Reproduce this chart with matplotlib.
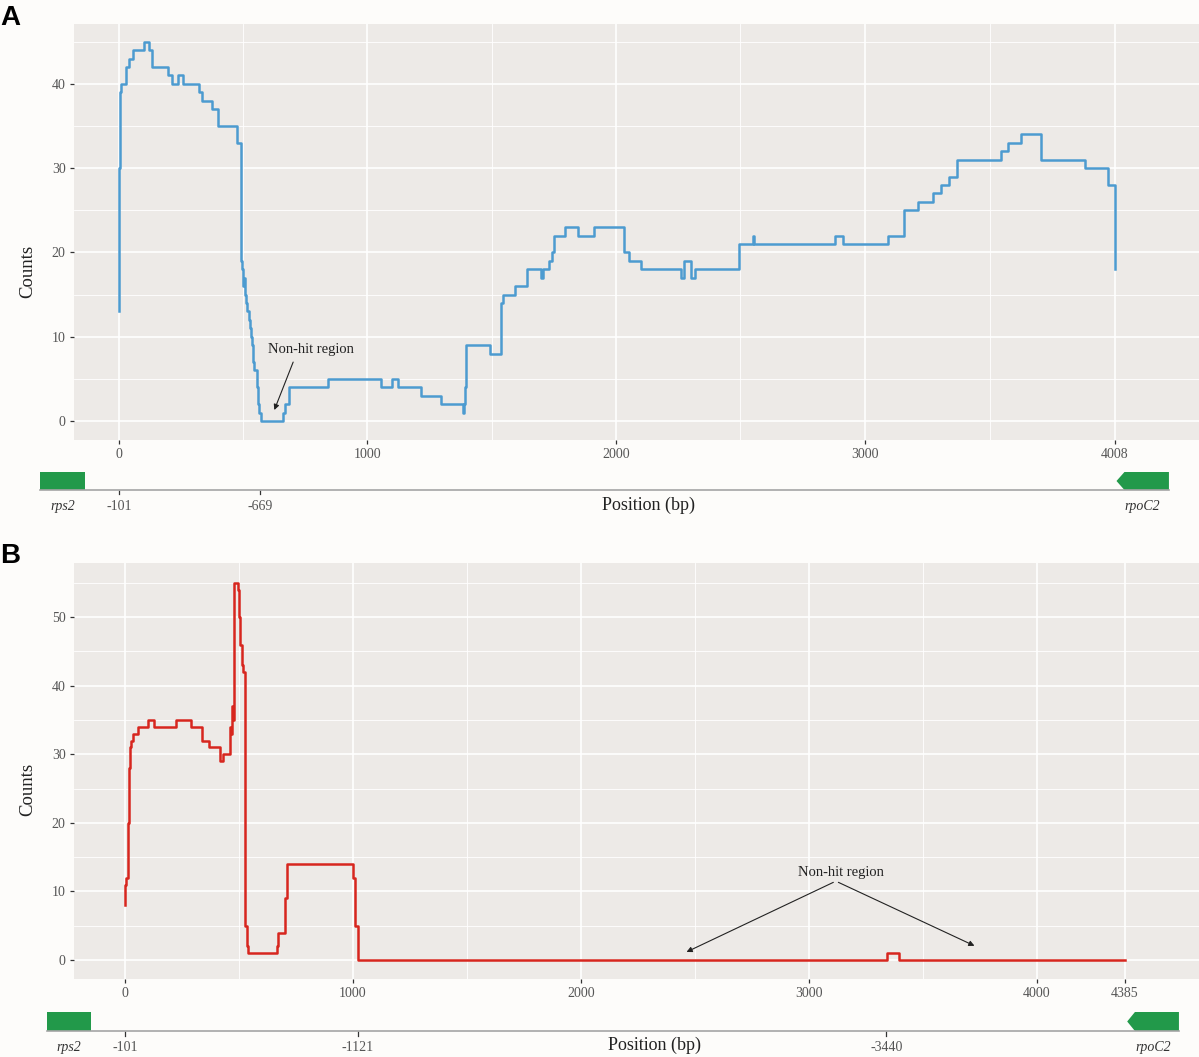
import matplotlib.pyplot as plt
from matplotlib.patches import Polygon, Rectangle
from matplotlib.ticker import FixedLocator

plt.rcParams['font.family'] = ['Liberation Serif', 'DejaVu Serif']

W, H = 1199, 1057

# ---- panel A data (position in bp, read counts) ----
pos_a = [0, 2, 5, 9, 28, 41, 57, 101, 120, 131, 196, 215, 236, 257, 323, 334, 374, 400,
         474, 490, 494, 498, 500, 504, 507, 512, 516, 522, 527, 532, 536, 540, 543, 557,
         560, 565, 572, 659, 669, 683, 840, 1054, 1100, 1121, 1215, 1294, 1385, 1390,
         1392, 1396, 1493, 1536, 1547, 1594, 1641, 1700, 1708, 1730, 1744, 1752, 1795,
         1846, 1911, 2032, 2054, 2101, 2262, 2275, 2300, 2318, 2496, 2553, 2557, 2881,
         2915, 3096, 3159, 3214, 3277, 3306, 3341, 3371, 3548, 3579, 3628, 3709, 3887,
         3981, 4008]
cnt_a = [13, 30, 39, 40, 42, 43, 44, 45, 44, 42, 41, 40, 41, 40, 39, 38, 37, 35,
         33, 19, 18, 17, 16, 17, 15, 14, 13, 12, 11, 10, 9, 7, 6, 4,
         2, 1, 0, 1, 2, 4, 5, 4, 5, 4, 3, 2, 1, 2,
         4, 9, 8, 14, 15, 16, 18, 17, 18, 19, 20, 22, 23,
         22, 23, 20, 19, 18, 17, 19, 17, 18, 21, 22, 21, 22,
         21, 22, 25, 26, 27, 28, 29, 31, 32, 33, 34, 31, 30,
         28, 18]
ticks_a = [0, 1000, 2000, 3000, 4008]
rel_ticks_a = [0, 568]
rel_labels_a = ['-101', '-669']
rps2_a = (-318, -137)
rpoc2_a = (4014, 4046, 4225)

# ---- panel B data ----
pos_b = [0, 1, 4, 15, 18, 22, 27, 35, 56, 99, 126, 224, 288, 336, 370, 417, 429, 461,
         466, 470, 474, 477, 497, 499, 506, 511, 516, 526, 527, 534, 540, 665, 669, 703,
         711, 1001, 1010, 1020, 3344, 3394, 4385]
cnt_b = [8, 11, 12, 20, 28, 31, 32, 33, 34, 35, 34, 35, 34, 32, 31, 29, 30, 34,
         33, 37, 35, 55, 54, 50, 46, 43, 42, 13, 5, 2, 1, 2, 4, 9,
         14, 12, 5, 0, 1, 0, 0]
ticks_b = [0, 1000, 2000, 3000, 4000, 4385]
rel_ticks_b = [0, 1020, 3339]
rel_labels_b = ['-101', '-1121', '-3440']
rps2_b = (-343, -149)
rpoc2_b = (4396, 4430, 4623)

GREEN = '#22994A'
PANEL = '#EDEAE7'


def rect(l, t, r, b):
    return [l / W, 1 - b / H, (r - l) / W, (b - t) / H]


def draw_panel(main_box, track_box, pos, cnt, color, xlim, ylim, ticks, xminor,
               yticks, yminor, rel_ticks, rel_labels, rps2, rpoc2):
    ax = fig.add_axes(rect(*main_box))
    ax.set_facecolor(PANEL)
    for s in ax.spines.values():
        s.set_visible(False)
    ax.plot(pos, cnt, drawstyle='steps-post', color=color, lw=1.8, zorder=3)
    ax.set_xlim(*xlim)
    ax.set_ylim(*ylim)
    ax.set_xticks(ticks)
    ax.set_xticklabels([str(t) for t in ticks])
    ax.set_yticks(yticks)
    ax.xaxis.set_minor_locator(FixedLocator(xminor))
    ax.yaxis.set_minor_locator(FixedLocator(yminor))
    ax.grid(which='major', color='white', lw=1.2)
    ax.grid(which='minor', color='white', lw=0.6)
    ax.set_axisbelow(True)
    ax.tick_params(which='major', length=3, width=0.9, color='#333333',
                   labelcolor='#555555', labelsize=10, pad=3)
    ax.tick_params(which='minor', length=0)

    tr = fig.add_axes(rect(*track_box))
    tr.set_xlim(*xlim)
    tr.set_ylim(0, 1)
    tr.axis('off')
    tr.plot([rps2[0], rpoc2[2]], [0, 0], color='#A5A5A5', lw=1.2, clip_on=False)
    tr.add_patch(Rectangle((rps2[0], 0), rps2[1] - rps2[0], 1, color=GREEN,
                           clip_on=False, lw=0))
    tr.add_patch(Polygon([(rpoc2[0], 0.5), (rpoc2[1], 1), (rpoc2[2], 1),
                          (rpoc2[2], 0), (rpoc2[1], 0)], closed=True, color=GREEN,
                         clip_on=False, lw=0))
    for x, lab in zip(rel_ticks, rel_labels):
        tr.plot([x, x], [-0.05, -0.25], color='#333333', lw=0.9, clip_on=False)
        tr.text(x, -0.55, lab, ha='center', va='top', fontsize=10, color='#555555')
    tr.text((rps2[0] + rps2[1]) / 2, -0.55, 'rps2', ha='center', va='top',
            fontsize=10, style='italic', color='#333333')
    tr.text((rpoc2[0] + rpoc2[2]) / 2, -0.55, 'rpoC2', ha='center', va='top',
            fontsize=10, style='italic', color='#333333')
    return ax


fig = plt.figure(figsize=(W / 100, H / 100), dpi=100)
fig.patch.set_facecolor('#FDFCFA')

ax_a = draw_panel((74, 24, 1199, 440), (74, 472, 1199, 490), pos_a, cnt_a, '#4C9BD0',
                  (-181, 4346), (-2.25, 47.1), ticks_a, [500, 1500, 2500, 3504],
                  [0, 10, 20, 30, 40], [5, 15, 25, 35, 45],
                  rel_ticks_a, rel_labels_a, rps2_a, rpoc2_a)
ax_a.annotate('', xy=(621, 1.0), xytext=(705, 7.3),
              arrowprops=dict(arrowstyle='-|>', color='#222222', lw=0.8,
                              mutation_scale=8))
ax_a.text(773, 8.5, 'Non-hit region', ha='center', va='center', fontsize=10.5,
          color='#222222')

ax_b = draw_panel((74, 563, 1199, 979), (74, 1012, 1199, 1031), pos_b, cnt_b, '#D7261E',
                  (-224, 4711), (-2.77, 57.9), ticks_b, [500, 1500, 2500, 3500],
                  [0, 10, 20, 30, 40, 50], [5, 15, 25, 35, 45, 55],
                  rel_ticks_b, rel_labels_b, rps2_b, rpoc2_b)
for tip in [(2452, 1.0), (3737, 1.9)]:
    ax_b.annotate('', xy=tip, xytext=(3118, 11.5),
                  arrowprops=dict(arrowstyle='-|>', color='#222222', lw=0.8,
                                  mutation_scale=8))
ax_b.text(3140, 12.8, 'Non-hit region', ha='center', va='center', fontsize=10.5,
          color='#222222')

# axis titles and panel letters
fig.text(28 / W, 1 - 271 / H, 'Counts', rotation=90, ha='center', va='center',
         fontsize=13.5, color='#222222')
fig.text(28 / W, 1 - 789 / H, 'Counts', rotation=90, ha='center', va='center',
         fontsize=13.5, color='#222222')
fig.text(649 / W, 1 - 505 / H, 'Position (bp)', ha='center', va='center',
         fontsize=13, color='#222222')
fig.text(655 / W, 1 - 1045 / H, 'Position (bp)', ha='center', va='center',
         fontsize=13, color='#222222')
fig.text(0 / W, 1 - 18 / H, 'A', ha='left', va='center', fontsize=20,
         fontweight='bold', family=['Liberation Sans', 'DejaVu Sans'])
fig.text(0 / W, 1 - 556 / H, 'B', ha='left', va='center', fontsize=20,
         fontweight='bold', family=['Liberation Sans', 'DejaVu Sans'])

fig.savefig('out.png', dpi=100, facecolor=fig.get_facecolor())
